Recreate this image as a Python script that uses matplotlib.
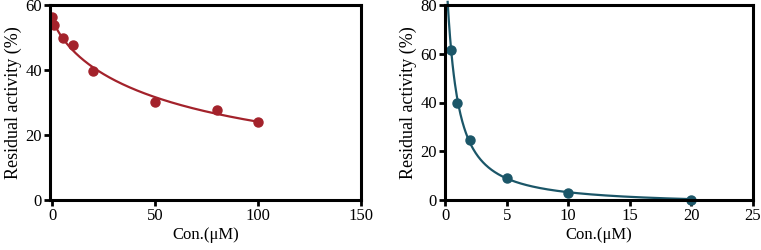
""" Residual activity vs concentration, two inhibitors"""

import numpy as np
import matplotlib.pyplot as plt

plt.rcParams['font.family'] = ['Liberation Serif', 'DejaVu Serif']

# left panel
conc_a = np.array([0, 1, 5, 10, 20, 50, 80, 100])
act_a = np.array([56.2, 53.8, 49.8, 47.8, 39.8, 30.2, 27.6, 24.0])

# right panel
conc_b = np.array([0.5, 1, 2, 5, 10, 20])
act_b = np.array([61.5, 39.8, 24.8, 9.1, 3.0, 0.1])

red = '#a3222b'
teal = '#1b5668'


def hill(x, top, ic50, h, bottom=0.0):
    return bottom + (top - bottom) / (1 + (np.maximum(x, 0) / ic50) ** h)


def fit_hill(x, y, tops, ic50s, hs, bottoms=(0.0,)):
    # crude least squares by grid search
    best = None
    for t in tops:
        for c in ic50s:
            for h in hs:
                for b in bottoms:
                    err = np.sum((hill(x, t, c, h, b) - y) ** 2)
                    if best is None or err < best[0]:
                        best = (err, t, c, h, b)
    return best[1:]


pa = fit_hill(conc_a, act_a, np.linspace(50, 60, 41), np.linspace(30, 150, 121), np.linspace(0.4, 1.5, 56))
pb = fit_hill(conc_b, act_b, [100.0], np.linspace(0.3, 1.5, 61), np.linspace(0.8, 2.0, 31),
              np.linspace(-4, 0, 21))

fig = plt.figure(figsize=(7.61, 2.5), dpi=100)
ax1 = fig.add_axes([0.066, 0.2, 0.408, 0.78])
ax2 = fig.add_axes([0.585, 0.2, 0.404, 0.78])

xs = np.linspace(0, 100, 300)
ax1.plot(xs, hill(xs, *pa), color=red, lw=1.6)
ax1.plot(conc_a, act_a, 'o', color=red, ms=6.5)
ax1.set_xlim(-1, 150)
ax1.set_ylim(0, 60)
ax1.set_xticks([0, 50, 100, 150])
ax1.set_yticks([0, 20, 40, 60])

xs = np.linspace(0.2, 20, 400)
ys = hill(xs, *pb)
ax2.plot(xs, ys, color=teal, lw=1.6, clip_on=False)
ax2.plot(conc_b, act_b, 'o', color=teal, ms=6.5, clip_on=False)
ax2.set_xlim(0, 25)
ax2.set_ylim(0, 80)
ax2.set_xticks([0, 5, 10, 15, 20, 25])
ax2.set_yticks([0, 20, 40, 60, 80])

for ax in (ax1, ax2):
    for s in ax.spines.values():
        s.set_linewidth(2.2)
    ax.tick_params(width=2, length=4, labelsize=12, pad=2)
    ax.set_xlabel('Con.(μM)', fontsize=12, labelpad=2)
    ax.set_ylabel('Residual activity (%)', fontsize=13, labelpad=2)
    for lab in ax.get_xticklabels() + ax.get_yticklabels():
        lab.set_clip_on(False)

plt.savefig('out.png', dpi=100)
